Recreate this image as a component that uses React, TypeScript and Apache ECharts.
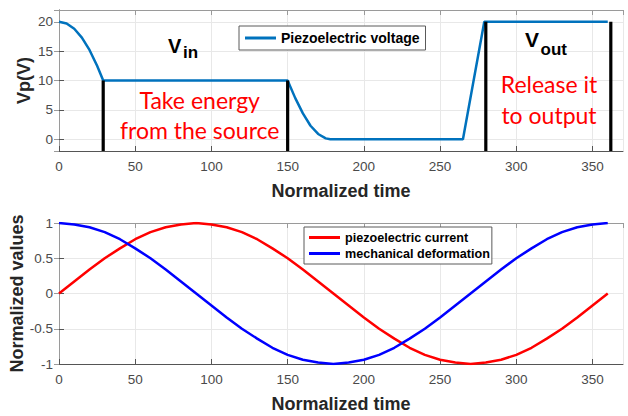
import React, { useEffect, useRef } from "react";
import * as echarts from "echarts";

// Top chart: piezoelectric voltage
const voltageT = [0, 5, 10, 15, 20, 25, 29, 150, 155, 160, 165, 170, 175, 178, 265, 279, 360];
const voltageV = [20, 19.7, 18.8, 17.3, 15.2, 12.5, 10, 10, 7.0, 4.4, 2.3, 0.9, 0.15, 0, 0, 20, 20];
// Black vertical bars (x position, top value); bottom is the axis minimum
const barX = [29, 150, 280, 362];
const barTop = [10, 10, 20, 20];

// Bottom chart
const timeT = [0, 10, 20, 30, 40, 50, 60, 70, 80, 90, 100, 110, 120, 130, 140, 150, 160, 170, 180,
  190, 200, 210, 220, 230, 240, 250, 260, 270, 280, 290, 300, 310, 320, 330, 340, 350, 360];
const currentV = [0, 0.17, 0.34, 0.5, 0.64, 0.77, 0.87, 0.94, 0.98, 1, 0.98, 0.94, 0.87, 0.77, 0.64, 0.5, 0.34, 0.17, 0,
  -0.17, -0.34, -0.5, -0.64, -0.77, -0.87, -0.94, -0.98, -1, -0.98, -0.94, -0.87, -0.77, -0.64, -0.5, -0.34, -0.17, 0];
const deformV = [1, 0.98, 0.94, 0.87, 0.77, 0.64, 0.5, 0.34, 0.17, 0, -0.17, -0.34, -0.5, -0.64, -0.77, -0.87, -0.94, -0.98, -1,
  -0.98, -0.94, -0.87, -0.77, -0.64, -0.5, -0.34, -0.17, 0, 0.17, 0.34, 0.5, 0.64, 0.77, 0.87, 0.94, 0.98, 1];

const topYMin = -2;
const topYMax = 22;
const xMin = 0;
const xMax = 370;

const SANS = '"Liberation Sans", Arial, sans-serif';
const LABEL_COLOR = "#4a4a4a";
const AXIS_DARK = "#555555";
const AXIS_LIGHT = "#9a9a9a";
const GRID_COLOR = "#e8e8e8";

function bottomX(gridIndex: number, name: string) {
  return {
    type: "value", gridIndex, min: xMin, max: xMax, interval: 50, position: "bottom",
    name, nameLocation: "middle", nameGap: 31, nameMoveOverlap: false,
    nameTextStyle: { fontFamily: SANS, fontWeight: "bold", fontSize: 18, color: "#262626" },
    axisLine: { show: true, onZero: false, lineStyle: { color: AXIS_DARK, width: 1 } },
    axisTick: { show: true, inside: true, length: 5, lineStyle: { color: AXIS_DARK } },
    axisLabel: { show: true, showMaxLabel: false, margin: 8, fontFamily: SANS, fontSize: 13.5, color: LABEL_COLOR },
    splitLine: { show: true, lineStyle: { color: GRID_COLOR, width: 1 } },
  };
}
function topX(gridIndex: number) {
  return {
    type: "value", gridIndex, min: xMin, max: xMax, interval: 50, position: "top",
    axisLine: { show: true, onZero: false, lineStyle: { color: AXIS_LIGHT, width: 1 } },
    axisTick: { show: true, inside: true, length: 5, lineStyle: { color: AXIS_LIGHT } },
    axisLabel: { show: false },
    splitLine: { show: false },
  };
}

export default function App() {
  const ref = useRef<HTMLDivElement>(null);
  useEffect(() => {
    if (!ref.current) return;
    const chart = echarts.init(ref.current, null, { renderer: "svg" });

    const barSeries = barX.map((x, i) => ({
      type: "line", xAxisIndex: 0, yAxisIndex: 0, symbol: "none", silent: true,
      data: [[x, barTop[i]], [x, topYMin]],
      lineStyle: { color: "#000000", width: 3.2 }, z: 3,
    }));

    const option: any = {
      animation: false,
      backgroundColor: "#ffffff",
      grid: [
        { left: 59, top: 10, width: 564, height: 141, containLabel: false, outerBoundsMode: "none" },
        { left: 59, top: 223, width: 564, height: 141, containLabel: false, outerBoundsMode: "none" },
      ],
      xAxis: [bottomX(0, "Normalized time"), bottomX(1, "Normalized time"), topX(0), topX(1)],
      yAxis: [
        {
          type: "value", gridIndex: 0, min: topYMin, max: topYMax, minInterval: 5, maxInterval: 5, splitNumber: 5,
          name: "Vp(V)", nameLocation: "middle", nameGap: 26, nameMoveOverlap: false,
          nameTextStyle: { fontFamily: SANS, fontWeight: "bold", fontSize: 18, color: "#262626" },
          axisLine: { show: true, lineStyle: { color: AXIS_DARK } },
          axisTick: { show: true, inside: true, length: 5, lineStyle: { color: AXIS_DARK } },
          axisLabel: { showMinLabel: false, showMaxLabel: false, margin: 6, fontFamily: SANS, fontSize: 13.5, color: LABEL_COLOR },
          splitLine: { show: true, lineStyle: { color: GRID_COLOR } },
        },
        {
          type: "value", gridIndex: 1, min: -1, max: 1, interval: 0.5,
          name: "Normalized values", nameLocation: "middle", nameGap: 33, nameMoveOverlap: false,
          nameTextStyle: { fontFamily: SANS, fontWeight: "bold", fontSize: 18, color: "#262626" },
          axisLine: { show: true, lineStyle: { color: AXIS_DARK } },
          axisTick: { show: true, inside: true, length: 5, lineStyle: { color: AXIS_DARK } },
          axisLabel: { margin: 6, fontFamily: SANS, fontSize: 13.5, color: LABEL_COLOR },
          splitLine: { show: true, lineStyle: { color: GRID_COLOR } },
        },
        {
          type: "value", gridIndex: 0, min: topYMin, max: topYMax, minInterval: 5, maxInterval: 5, splitNumber: 5, position: "right",
          axisLine: { show: true, lineStyle: { color: AXIS_LIGHT } },
          axisTick: { show: true, inside: true, length: 5, lineStyle: { color: AXIS_LIGHT } },
          axisLabel: { show: false }, splitLine: { show: false },
        },
        {
          type: "value", gridIndex: 1, min: -1, max: 1, interval: 0.5, position: "right",
          axisLine: { show: true, lineStyle: { color: AXIS_LIGHT } },
          axisTick: { show: true, inside: true, length: 5, lineStyle: { color: AXIS_LIGHT } },
          axisLabel: { show: false }, splitLine: { show: false },
        },
      ],
      legend: [
        {
          data: ["Piezoelectric voltage"], left: 239, top: 26, orient: "horizontal",
          padding: [5, 6, 5, 6], itemWidth: 31, itemHeight: 3, icon: "rect",
          backgroundColor: "#ffffff", borderColor: "#5a5a5a", borderWidth: 1, borderRadius: 0,
          textStyle: { fontFamily: SANS, fontWeight: "bold", fontSize: 14, color: "#000000" },
        },
        {
          data: ["piezoelectric current", "mechanical deformation"], left: 304, top: 227, orient: "vertical",
          padding: [4, 2, 4, 5], itemWidth: 31, itemHeight: 3, itemGap: 3, icon: "rect",
          backgroundColor: "#ffffff", borderColor: "#5a5a5a", borderWidth: 1, borderRadius: 0,
          textStyle: { fontFamily: SANS, fontWeight: "bold", fontSize: 12.6, color: "#000000" },
        },
      ],
      series: [
        {
          name: "Piezoelectric voltage", type: "line", xAxisIndex: 0, yAxisIndex: 0, symbol: "none",
          data: voltageT.map((t, i) => [t, voltageV[i]]),
          lineStyle: { color: "#0072BD", width: 2.5 }, itemStyle: { color: "#0072BD" }, z: 2,
        },
        ...barSeries,
        {
          name: "piezoelectric current", type: "line", xAxisIndex: 1, yAxisIndex: 1, symbol: "none",
          data: timeT.map((t, i) => [t, currentV[i]]),
          lineStyle: { color: "#FF0000", width: 2.5 }, itemStyle: { color: "#FF0000" },
        },
        {
          name: "mechanical deformation", type: "line", xAxisIndex: 1, yAxisIndex: 1, symbol: "none",
          data: timeT.map((t, i) => [t, deformV[i]]),
          lineStyle: { color: "#0000FF", width: 2.5 }, itemStyle: { color: "#0000FF" },
        },
      ],
      graphic: [
        { type: "text", x: 168, y: 46.3, z: 10, style: { text: "V", fontFamily: SANS, fontWeight: "bold", fontSize: 20, fill: "#000", textAlign: "left", textVerticalAlign: "middle", align: "left", verticalAlign: "middle" } },
        { type: "text", x: 183, y: 52.3, z: 10, style: { text: "in", fontFamily: SANS, fontWeight: "bold", fontSize: 17, fill: "#000", textAlign: "left", textVerticalAlign: "middle", align: "left", verticalAlign: "middle" } },
        { type: "text", x: 525, y: 39.3, z: 10, style: { text: "V", fontFamily: SANS, fontWeight: "bold", fontSize: 21, fill: "#000", textAlign: "left", textVerticalAlign: "middle", align: "left", verticalAlign: "middle" } },
        { type: "text", x: 540.5, y: 49, z: 10, style: { text: "out", fontFamily: SANS, fontWeight: "bold", fontSize: 17, fill: "#000", textAlign: "left", textVerticalAlign: "middle", align: "left", verticalAlign: "middle" } },
        { type: "text", x: 199.7, y: 100, z: 10, style: { text: "Take energy", fontFamily: "Lato", fontSize: 23, fill: "#FF0000", textAlign: "center", textVerticalAlign: "middle", align: "center", verticalAlign: "middle" } },
        { type: "text", x: 199.7, y: 130, z: 10, style: { text: "from the source", fontFamily: "Lato", fontSize: 23, fill: "#FF0000", textAlign: "center", textVerticalAlign: "middle", align: "center", verticalAlign: "middle" } },
        { type: "text", x: 549, y: 84.3, z: 10, style: { text: "Release it", fontFamily: "Lato", fontSize: 23, fill: "#FF0000", textAlign: "center", textVerticalAlign: "middle", align: "center", verticalAlign: "middle" } },
        { type: "text", x: 549, y: 115, z: 10, style: { text: "to output", fontFamily: "Lato", fontSize: 23, fill: "#FF0000", textAlign: "center", textVerticalAlign: "middle", align: "center", verticalAlign: "middle" } },
      ],
    };
    chart.setOption(option);
    return () => chart.dispose();
  }, []);
  return <div ref={ref} style={{ position: "fixed", left: 0, top: 0, width: 628, height: 416 }} />;
}
